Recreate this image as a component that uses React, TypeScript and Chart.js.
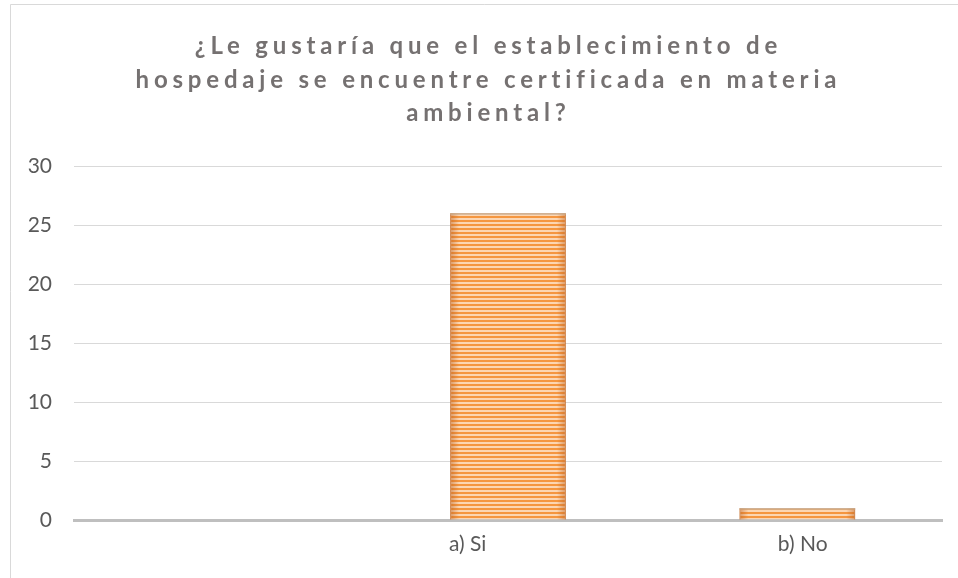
import React, { useEffect, useRef } from 'react';
import { Chart, registerables } from 'chart.js';

Chart.register(...registerables);

const categories: string[] = ['', 'a) Si', 'b) No'];
const values: number[] = [0, 26, 1];
const yTickValues: number[] = [0, 5, 10, 15, 20, 25, 30];
const titleLines: string[] = [
  '¿Le gustaría que el establecimiento de',
  'hospedaje se encuentre certificada en materia',
  'ambiental?',
];

const FONT = 'Lato, "Open Sans", sans-serif';

function makeStripePattern(ctx: CanvasRenderingContext2D): CanvasPattern | string {
  const c = document.createElement('canvas');
  c.width = 4;
  c.height = 4;
  const g = c.getContext('2d');
  if (!g) return '#f79646';
  g.fillStyle = '#fcd6b2';
  g.fillRect(0, 0, 4, 4);
  g.fillStyle = '#f5963f';
  g.fillRect(0, 0, 4, 2);
  return ctx.createPattern(c, 'repeat') || '#f79646';
}

const framePlugin = {
  id: 'frameAndTitle',
  beforeDraw(chart: any) {
    const ctx: CanvasRenderingContext2D = chart.ctx;
    ctx.save();
    ctx.fillStyle = '#ffffff';
    ctx.fillRect(0, 0, chart.width, chart.height);
    ctx.strokeStyle = '#d9d9d9';
    ctx.lineWidth = 1;
    ctx.beginPath();
    ctx.moveTo(10.5, chart.height);
    ctx.lineTo(10.5, 4.5);
    ctx.lineTo(chart.width, 4.5);
    ctx.stroke();
    ctx.restore();
  },
  afterDraw(chart: any) {
    const ctx: any = chart.ctx;
    ctx.save();
    ctx.font = 'bold 24px ' + FONT;
    ctx.fillStyle = '#757171';
    ctx.textAlign = 'center';
    ctx.textBaseline = 'middle';
    ctx.letterSpacing = '0px';
    const natural = ctx.measureText(titleLines[1]).width;
    const spacing = Math.max(0, (706 - natural) / titleLines[1].length);
    ctx.letterSpacing = spacing.toFixed(2) + 'px';
    const cx = 486 + spacing / 2;
    const ys = [46, 80, 113];
    titleLines.forEach((line, i) => ctx.fillText(line, cx, ys[i]));
    ctx.restore();
  },
};

const barShadePlugin = {
  id: 'barShade',
  afterDatasetsDraw(chart: any) {
    const ctx: CanvasRenderingContext2D = chart.ctx;
    const meta = chart.getDatasetMeta(0);
    ctx.save();
    meta.data.forEach((bar: any) => {
      const { x, y, base, width } = bar.getProps(['x', 'y', 'base', 'width'], true);
      const h = base - y;
      if (h < 1) return;
      const left = x - width / 2;
      const right = x + width / 2;
      const edge = Math.min(9, width / 4);
      let g = ctx.createLinearGradient(left, 0, left + edge, 0);
      g.addColorStop(0, 'rgba(190,100,35,0.55)');
      g.addColorStop(1, 'rgba(190,100,35,0)');
      ctx.fillStyle = g;
      ctx.fillRect(left, y, edge, h);
      g = ctx.createLinearGradient(right, 0, right - edge, 0);
      g.addColorStop(0, 'rgba(190,100,35,0.55)');
      g.addColorStop(1, 'rgba(190,100,35,0)');
      ctx.fillStyle = g;
      ctx.fillRect(right - edge, y, edge, h);
      ctx.fillStyle = 'rgba(200,170,140,0.9)';
      ctx.fillRect(left, y, width, 1.5);
    });
    ctx.restore();
  },
};

const labelPad: Record<string, [number, number]> = {
  'a) Si': [0, 15],
  'b) No': [2, 0],
};

export default function App() {
  const canvasRef = useRef<HTMLCanvasElement | null>(null);

  useEffect(() => {
    const canvas = canvasRef.current;
    if (!canvas) return;
    const ctx = canvas.getContext('2d');
    if (!ctx) return;
    const pattern = makeStripePattern(ctx);

    const chart = new Chart(ctx, {
      type: 'bar',
      data: {
        labels: categories,
        datasets: [
          {
            data: values,
            backgroundColor: pattern as any,
            borderColor: 'rgba(215,130,60,0.8)',
            borderWidth: 1,
            borderSkipped: 'bottom',
            barPercentage: 1,
            categoryPercentage: 0.4,
          },
        ],
      },
      options: {
        responsive: false,
        animation: false,
        layout: { padding: { top: 166, right: 16, left: 0, bottom: 0 } },
        plugins: {
          legend: { display: false },
          title: { display: false },
          tooltip: { enabled: false },
        },
        scales: {
          x: {
            z: 1,
            grid: { display: false, drawTicks: false },
            border: { display: true, color: '#bfbfbf', width: 3 },
            ticks: {
              color: '#595959',
              font: { family: FONT, size: 21 },
              padding: 12,
              maxRotation: 0,
              autoSkip: false,
              callback: function (this: any, _v: any, i: number) {
                const lab = categories[i];
                const p = labelPad[lab];
                if (!p) return lab;
                return ' '.repeat(p[0]) + lab + ' '.repeat(p[1]);
              },
            },
            afterFit: (scale: any) => {
              scale.height = 58;
            },
          },
          y: {
            min: 0,
            max: 30,
            grid: { color: '#d9d9d9', lineWidth: 1, drawTicks: false },
            border: { display: false },
            ticks: {
              color: '#595959',
              font: { family: FONT, size: 21 },
              padding: 22,
            },
            afterBuildTicks: (scale: any) => {
              scale.ticks = yTickValues.map((v) => ({ value: v }));
            },
            afterFit: (scale: any) => {
              scale.width = 74;
            },
          },
        },
      },
      plugins: [framePlugin, barShadePlugin],
    });

    return () => chart.destroy();
  }, []);

  return (
    <div style={{ position: 'fixed', left: 0, top: 0, width: 958, height: 578, background: '#fff' }}>
      <canvas ref={canvasRef} width={958} height={578} style={{ display: 'block' }} />
    </div>
  );
}
